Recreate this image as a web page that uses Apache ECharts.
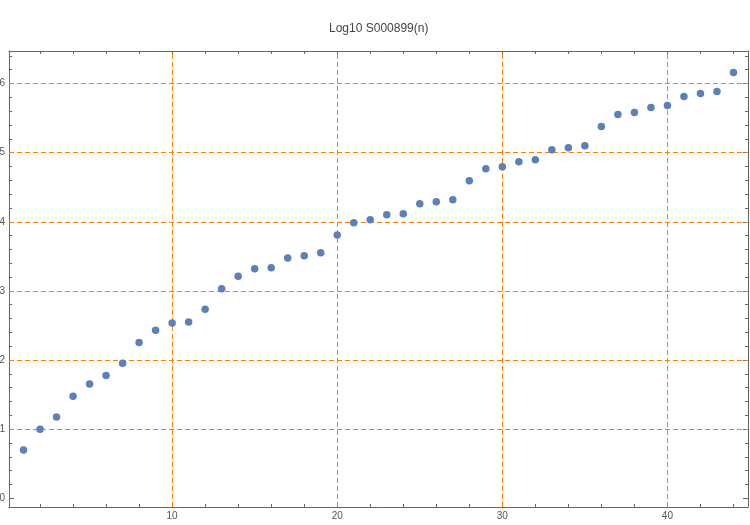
<!DOCTYPE html>
<html><head><meta charset="utf-8">
<script src="https://cdn.jsdelivr.net/npm/echarts@6/dist/echarts.min.js"></script>
<style>html,body{margin:0;padding:0;background:#fff}#c{width:750px;height:525px}</style>
</head><body><div id="c"></div>
<script>
const nValues = [1,2,3,4,5,6,7,8,9,10,11,12,13,14,15,16,17,18,19,20,21,22,23,24,25,26,27,28,29,30,31,32,33,34,35,36,37,38,39,40,41,42,43,44];
const logValues = [0.699,1.0,1.176,1.477,1.653,1.778,1.954,2.255,2.431,2.537,2.551,2.735,3.031,3.213,3.320,3.334,3.477,3.508,3.553,3.810,3.987,4.031,4.101,4.116,4.261,4.290,4.319,4.594,4.768,4.797,4.870,4.899,5.043,5.072,5.101,5.377,5.551,5.580,5.652,5.681,5.812,5.855,5.884,6.159];
const titleText = 'Log10 S000899(n)';
const xMajorTicks = [10,20,30,40];
const xMinorTicks = [2,4,6,8,12,14,16,18,22,24,26,28,32,34,36,38,42,44];
const yMajorTicks = [0,1,2,3,4,5,6];
const yMinorTicks = [0.2,0.4,0.6,0.8,1.2,1.4,1.6,1.8,2.2,2.4,2.6,2.8,3.2,3.4,3.6,3.8,4.2,4.4,4.6,4.8,5.2,5.4,5.6,5.8,6.2,6.4];
const xGridLines = [10,20,30,40];
const yGridLines = [1,2,3,4,5,6];

const X_MIN = 0.12, X_MAX = 44.88, Y_MIN = -0.126, Y_MAX = 6.471;
const axisColor = '#666';
const labelStyle = {color:'#555', fontSize:10, fontFamily:'Liberation Sans, Arial, sans-serif'};

function mkAxis(kind, pos, ticks, len, showLine, labels) {
  return {
    type:'value', position:pos, min: kind==='x'?X_MIN:Y_MIN, max: kind==='x'?X_MAX:Y_MAX,
    axisLine:{show:showLine, onZero:false, lineStyle:{color:axisColor, width:1}},
    axisTick:{show:true, inside:true, length:len, customValues:ticks, lineStyle:{color:axisColor, width:1}},
    axisLabel: labels ? Object.assign({show:true, margin:4, customValues:labels}, labelStyle) : {show:false},
    splitLine:{show:false}, minorTick:{show:false}
  };
}

const chart = echarts.init(document.getElementById('c'), null, {renderer:'canvas'});
chart.setOption({
  animation:false,
  backgroundColor:'#fff',
  title:{text:titleText, left:324, top:18,
    textStyle:{fontSize:12, fontWeight:'normal', color:'#444', fontFamily:'Liberation Sans, Arial, sans-serif'}},
  grid:{left:9, right:2, top:51, bottom:18, containLabel:false, outerBoundsMode:'none'},
  xAxis:[
    mkAxis('x','bottom',xMajorTicks,5,true,xMajorTicks),
    mkAxis('x','bottom',xMinorTicks,3,false,null),
    mkAxis('x','top',xMajorTicks,5,true,null),
    mkAxis('x','top',xMinorTicks,3,false,null)
  ],
  yAxis:[
    mkAxis('y','left',yMajorTicks,5,true,yMajorTicks),
    mkAxis('y','left',yMinorTicks,3,false,null),
    mkAxis('y','right',yMajorTicks,5,true,null),
    mkAxis('y','right',yMinorTicks,3,false,null)
  ],
  series:[
    {type:'scatter', data:[], z:1, silent:true,
     markLine:{silent:true, z:1, symbol:['none','none'], label:{show:false}, animation:false,
       lineStyle:{color:'#ff8000', width:1, type:[5,3]},
       emphasis:{disabled:true},
       data: xGridLines.map(v=>({xAxis:v})).concat(yGridLines.map(v=>({yAxis:v})))}},
    {type:'scatter', z:3, symbol:'circle', symbolSize:7.5,
     itemStyle:{color:'#5e81b5', opacity:1},
     data: nValues.map((n,i)=>[n, logValues[i]])}
  ]
});
</script></body></html>
